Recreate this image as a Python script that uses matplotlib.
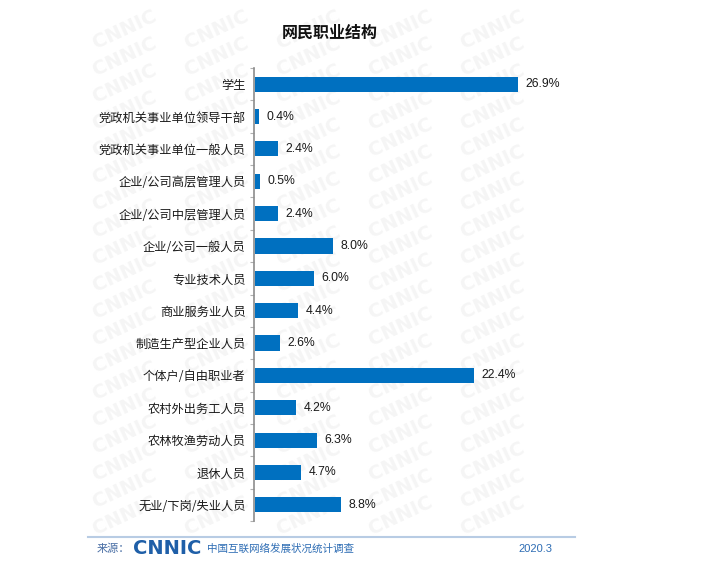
import matplotlib
matplotlib.use("Agg")
import matplotlib.pyplot as plt
import numpy as np

plt.rcParams['font.family'] = ['Noto Sans CJK SC', 'DejaVu Sans']

categories = ["学生", "党政机关事业单位领导干部", "党政机关事业单位一般人员",
              "企业/公司高层管理人员", "企业/公司中层管理人员", "企业/公司一般人员",
              "专业技术人员", "商业服务业人员", "制造生产型企业人员",
              "个体户/自由职业者", "农村外出务工人员", "农林牧渔劳动人员",
              "退休人员", "无业/下岗/失业人员"]
values = [26.9, 0.4, 2.4, 0.5, 2.4, 8.0, 6.0, 4.4, 2.6, 22.4, 4.2, 6.3, 4.7, 8.8]
title = "网民职业结构"

W, H = 711, 563
fig = plt.figure(figsize=(W / 100, H / 100), dpi=100)

# faint watermark
wm = fig.add_axes([0, 0, 1, 1], zorder=0)
wm.set_xlim(0, W)
wm.set_ylim(H, 0)
wm.axis('off')
for cx in np.arange(125, 570, 92):
    for cy in np.arange(30, 520, 27):
        wm.text(cx, cy, "CNNIC", fontsize=14, fontweight='bold', color='#f5f5f5',
                rotation=25, ha='center', va='center', family='DejaVu Sans')

left_px, top_px, bot_px = 254, 68, 521
xmax = 30
ppu = 9.78
ax = fig.add_axes([left_px / W, (H - bot_px) / H, xmax * ppu / W, (bot_px - top_px) / H], zorder=1)
ax.patch.set_alpha(0)
y = np.arange(len(categories))
ax.barh(y, values, height=0.47, color='#0070C0', left=0.1)
ax.set_xlim(0, xmax)
ax.set_ylim(len(categories) - 0.5, -0.5)
for s in ['top', 'right', 'bottom']:
    ax.spines[s].set_visible(False)
ax.spines['left'].set_color('#8c8c8c')
ax.spines['left'].set_linewidth(1.2)
ax.set_xticks([])
ax.set_yticks(y)
ax.set_yticklabels(categories, fontsize=8.8, color='#1a1a1a')
ax.tick_params(axis='y', length=0, pad=6)
ax.set_yticks(np.arange(-0.5, len(categories) + 0.5, 1), minor=True)
ax.tick_params(axis='y', which='minor', length=3, color='#b0b0b0', width=0.8)
for yi, v in zip(y, values):
    ax.text(v + 0.1 + 0.75, yi, f"{v:.1f}%", va='center', ha='left', fontsize=8.8,
            color='#1a1a1a', family=['Liberation Sans', 'DejaVu Sans'])

fig.text(330 / W, 1 - 33 / H, title, ha='center', va='center', fontsize=11.5,
         fontweight='bold', color='#111111')

# footer
fig.add_artist(plt.Line2D([88 / W, 575 / W], [1 - 537 / H, 1 - 537 / H],
                          color='#b8cce4', lw=1.5))
fy = 1 - 549 / H
fig.text(97 / W, fy, "来源：", ha='left', va='center', fontsize=8, color='#4a6fa5')
fig.text(133 / W, fy, "CNNIC", ha='left', va='center', fontsize=14, fontweight='bold',
         color='#1f5fa8', family='DejaVu Sans')
fig.text(207 / W, fy, "中国互联网络发展状况统计调查", ha='left', va='center', fontsize=7.6,
         color='#2e6db4')
fig.text(518 / W, fy, "2020.3", ha='left', va='center', fontsize=8, color='#2e6db4',
         family=['Liberation Sans', 'DejaVu Sans'])

fig.savefig("out.png", dpi=100)
